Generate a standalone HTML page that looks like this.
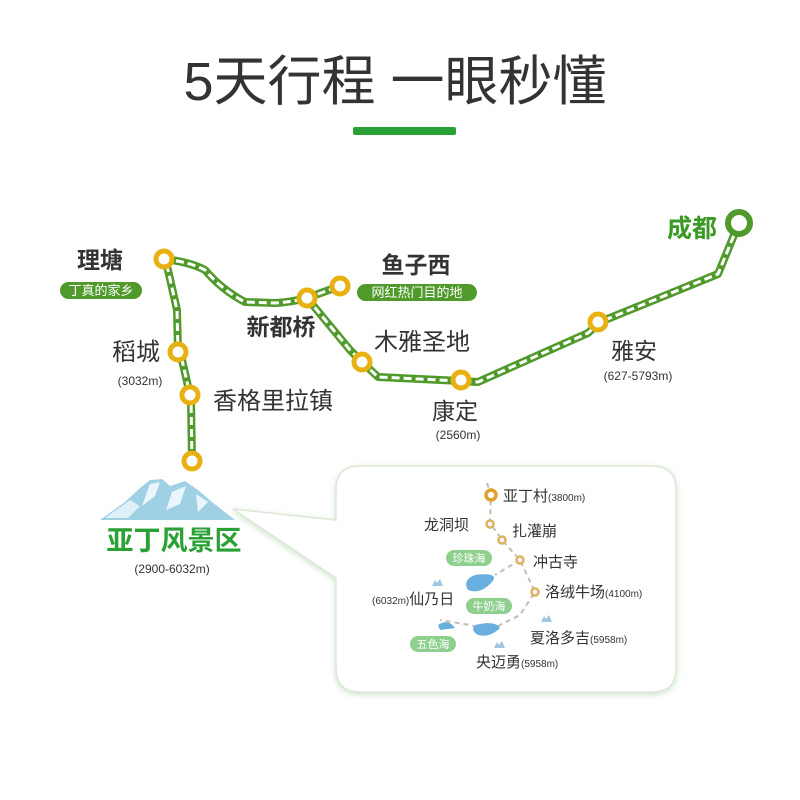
<!DOCTYPE html>
<html><head><meta charset="utf-8"><style>
html,body{margin:0;padding:0;background:#fff;}
svg{display:block;font-family:"Liberation Sans","Noto Sans CJK SC",sans-serif;}
</style></head><body>
<svg width="800" height="800" viewBox="0 0 800 800" xmlns="http://www.w3.org/2000/svg">
<defs>
<filter id="sh" x="-10%" y="-10%" width="120%" height="120%"><feDropShadow dx="0" dy="2" stdDeviation="3" flood-color="#9c9" flood-opacity="0.5"/></filter>
</defs>
<text x="395" y="100" font-size="54" fill="#333" text-anchor="middle">5天行程  一眼秒懂</text>
<rect x="353" y="127" width="103" height="8" rx="2" fill="#2aa135"/>

<g fill="none" stroke-linejoin="round" stroke-linecap="round">
<path d="M192,461 L191,400 L190,395 L182,360 L178,352 L177,310 L168,270 L164,259 M164,259 Q190,262 205,270 Q222,290 245,302 L275,303 Q292,302 307,298 L340,286 M307,298 L350,350 L362,362 L378,377 L461,381 L478,382 L588,333 L600,322 L718,274 L739,223" stroke="#4f9a2a" stroke-width="8"/>
<path d="M192,461 L191,400 L190,395 L182,360 L178,352 L177,310 L168,270 L164,259 M164,259 Q190,262 205,270 Q222,290 245,302 L275,303 Q292,302 307,298 L340,286 M307,298 L350,350 L362,362 L378,377 L461,381 L478,382 L588,333 L600,322 L718,274 L739,223" stroke="#fff" stroke-width="3" stroke-dasharray="8 4" stroke-linecap="butt"/>
</g>
<g fill="#fff" stroke="#e8b010" stroke-width="5">
<circle cx="164" cy="259" r="8"/><circle cx="178" cy="352" r="8"/><circle cx="190" cy="395" r="8"/><circle cx="192" cy="461" r="8"/>
<circle cx="307" cy="298" r="8"/><circle cx="340" cy="286" r="8"/><circle cx="362" cy="362" r="8"/><circle cx="461" cy="380" r="8"/><circle cx="598" cy="322" r="8"/>
</g>
<circle cx="739" cy="223" r="11" fill="#fff" stroke="#4f9a2a" stroke-width="6"/>

<text x="100" y="268" font-size="23" font-weight="bold" fill="#333" text-anchor="middle">理塘</text>
<rect x="60" y="282" width="82" height="17" rx="8.5" fill="#4f9a2a"/>
<text x="101" y="295" font-size="13" fill="#fff" text-anchor="middle">丁真的家乡</text>
<text x="416" y="273" font-size="23" font-weight="bold" fill="#333" text-anchor="middle">鱼子西</text>
<rect x="357" y="284" width="120" height="17" rx="8.5" fill="#4f9a2a"/>
<text x="417" y="297" font-size="13" fill="#fff" text-anchor="middle">网红热门目的地</text>
<text x="281" y="335" font-size="23" font-weight="bold" fill="#333" text-anchor="middle">新都桥</text>
<text x="422" y="350" font-size="24" fill="#333" text-anchor="middle">木雅圣地</text>
<text x="136" y="360" font-size="24" fill="#333" text-anchor="middle">稻城</text>
<text x="140" y="385" font-size="12" fill="#333" text-anchor="middle">(3032m)</text>
<text x="273" y="409" font-size="24" fill="#333" text-anchor="middle">香格里拉镇</text>
<text x="455" y="419" font-size="23" fill="#333" text-anchor="middle">康定</text>
<text x="458" y="439" font-size="12" fill="#333" text-anchor="middle">(2560m)</text>
<text x="634" y="359" font-size="23" fill="#333" text-anchor="middle">雅安</text>
<text x="638" y="380" font-size="12" fill="#333" text-anchor="middle">(627-5793m)</text>
<text x="692" y="237" font-size="25" font-weight="bold" fill="#3a9a25" text-anchor="middle">成都</text>

<path d="M100,520 L125,502 L140,488 L150,480 L162,479 L170,486 L185,481 L198,490 L212,502 L235,520 Z" fill="#9fd0e4"/>
<path d="M105,518 L130,500 L140,506 L128,518 Z" fill="#dff1f8"/>
<path d="M150,484 L160,482 L155,496 L142,506 Z M172,492 L186,486 L180,504 L166,510 Z M196,494 L208,502 L198,512 Z" fill="#eaf6fb"/>
<text x="174" y="550" font-size="27" font-weight="bold" fill="#2aa135" text-anchor="middle">亚丁风景区</text>
<text x="172" y="573" font-size="12" fill="#333" text-anchor="middle">(2900-6032m)</text>

<g filter="url(#sh)">
<path d="M360,466 L652,466 Q676,466 676,490 L676,668 Q676,692 652,692 L360,692 Q336,692 336,668 L336,578 L233,509 L336,520 L336,490 Q336,466 360,466 Z" fill="#fff" stroke="#dde8d8" stroke-width="1.5"/>
</g>
<g fill="none" stroke="#c0c0b0" stroke-width="2" stroke-dasharray="5 4">
<path d="M487,483 L491,495 L490,523 L502,540 L520,560 L535,592 L520,615 L490,630 L470,625 L440,620"/>
<path d="M520,560 L495,575"/>
</g>
<g fill="#fff" stroke="#e0b060" stroke-width="2.5">
<circle cx="491" cy="495" r="5" stroke="#e0a030" stroke-width="3.5"/>
<circle cx="490" cy="524" r="3.5"/><circle cx="502" cy="540" r="3.5"/><circle cx="520" cy="560" r="3.5"/><circle cx="535" cy="592" r="3.5"/>
</g>
<path d="M475,575 Q500,572 492,582 Q480,595 468,590 Q462,580 475,575Z" fill="#6aaedf"/>
<path d="M475,625 Q495,620 500,628 Q490,638 478,635 Q470,630 475,625Z" fill="#6aaedf"/>
<path d="M438,625 Q448,618 455,628 L440,630 Z" fill="#6aaedf"/>
<g fill="#9fc8e0"><path d="M432,586 l3,-6 l2,3 l3,-4 l3,7z"/><path d="M541,622 l3,-6 l2,3 l3,-4 l3,7z"/><path d="M494,648 l3,-6 l2,3 l3,-4 l3,7z"/></g>
<g fill="#8fd08f"><rect x="446" y="550" width="46" height="16" rx="8"/><rect x="466" y="598" width="46" height="16" rx="8"/><rect x="410" y="636" width="46" height="16" rx="8"/></g>
<g fill="#fff" font-size="11" text-anchor="middle"><text x="469" y="562">珍珠海</text><text x="489" y="610">牛奶海</text><text x="433" y="648">五色海</text></g>
<g fill="#333" font-size="15">
<text x="503" y="501">亚丁村<tspan font-size="10">(3800m)</tspan></text>
<text x="424" y="530">龙洞坝</text>
<text x="512" y="536">扎灌崩</text>
<text x="533" y="567">冲古寺</text>
<text x="545" y="597">洛绒牛场<tspan font-size="10">(4100m)</tspan></text>
<text x="372" y="604"><tspan font-size="10">(6032m)</tspan>仙乃日</text>
<text x="530" y="643">夏洛多吉<tspan font-size="10">(5958m)</tspan></text>
<text x="476" y="667">央迈勇<tspan font-size="10">(5958m)</tspan></text>
</g>
</svg>
</body></html>
